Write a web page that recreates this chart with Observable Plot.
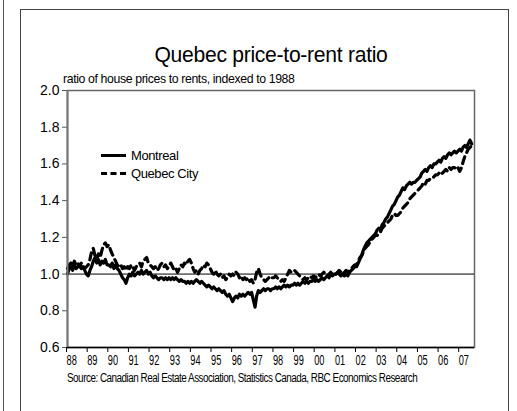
<!DOCTYPE html>
<html>
<head>
<meta charset="utf-8">
<script src="https://cdn.jsdelivr.net/npm/d3@7"></script>
<script src="https://cdn.jsdelivr.net/npm/@observablehq/plot@0.6"></script>
<style>
  html, body { margin: 0; padding: 0; background: #fff; }
  #wrap { position: relative; width: 517px; height: 411px; overflow: hidden; font-family: "Liberation Sans", Arial, sans-serif; color: #000; }
  #wrap svg { position: absolute; left: 0; top: 0; }
  .txt { position: absolute; white-space: nowrap; line-height: 1; }
  #outer { position: absolute; left: 3px; top: 0; width: 1px; height: 411px; background: #555; }
  #inner { position: absolute; left: 20px; top: 9px; width: 487px; height: 420px; border: 1px solid #444; }
  .leg { position: absolute; display: flex; align-items: center; font-size: 13px; letter-spacing: -0.4px; }
  .sw { width: 25px; height: 0; margin-right: 5px; }
</style>
</head>
<body>
<div id="wrap">
  <div id="outer"></div>
  <div id="inner"></div>
  <div id="chart"></div>
  <div class="txt" id="title" style="left:0;width:542px;text-align:center;top:44px;font-size:22px;letter-spacing:-0.3px;transform:scaleX(0.96);transform-origin:271px 0;">Quebec price-to-rent ratio</div>
  <div class="txt" id="subtitle" style="left:63px;top:72px;font-size:13px;letter-spacing:-0.4px;transform:scaleX(0.945);transform-origin:0 0;">ratio of house prices to rents, indexed to 1988</div>
  <div class="txt" id="source" style="left:67px;top:372px;font-size:12px;letter-spacing:-0.6px;transform:scaleX(0.825);transform-origin:0 0;">Source: Canadian Real Estate Association, Statistics Canada, RBC Economics Research</div>
  <div class="leg" style="left:101px;top:148px;"><div class="sw" style="border-top:3px solid #000;"></div><span>Montreal</span></div>
  <div class="leg" style="left:101px;top:166px;"><div class="sw" style="border-top:3px dashed #000;"></div><span>Quebec City</span></div>
</div>
<script>
// Monthly values, January 1988 onward
const startYear = 1988;
const montreal = [
  1.00, 1.03, 1.04, 1.02, 1.05, 1.03, 1.04, 1.05, 1.03, 1.04, 1.02, 1.00,
  0.99, 1.02, 1.04, 1.07, 1.09, 1.06, 1.08, 1.05, 1.07, 1.06, 1.08, 1.05,
  1.05, 1.04, 1.06, 1.03, 1.05, 1.03, 1.02, 1.00, 0.98, 0.97, 0.95, 0.98,
  1.00, 0.99, 1.01, 0.99, 1.00, 1.01, 1.00, 1.02, 1.00, 1.01, 1.02, 1.00,
  1.01, 0.99, 0.98, 0.99, 0.98, 0.97, 0.98, 0.98, 0.97, 0.98, 0.97, 0.98,
  0.97, 0.98, 0.97, 0.98, 0.97, 0.96, 0.97, 0.96, 0.96, 0.95, 0.96, 0.95,
  0.96, 0.95, 0.96, 0.97, 0.96, 0.95, 0.96, 0.95, 0.94, 0.93, 0.94, 0.93,
  0.92, 0.93, 0.92, 0.91, 0.92, 0.91, 0.90, 0.91, 0.89, 0.88, 0.89, 0.87,
  0.85, 0.87, 0.88, 0.87, 0.89, 0.88, 0.89, 0.88, 0.89, 0.90, 0.89, 0.90,
  0.86, 0.82, 0.88, 0.91, 0.90, 0.91, 0.92, 0.91, 0.92, 0.92, 0.91, 0.92,
  0.92, 0.93, 0.92, 0.93, 0.92, 0.93, 0.94, 0.93, 0.94, 0.93, 0.94, 0.94,
  0.95, 0.94, 0.95, 0.94, 0.95, 0.96, 0.95, 0.96, 0.95, 0.96, 0.96, 0.97,
  0.96, 0.97, 0.96, 0.97, 0.98, 0.97, 0.98, 0.99, 0.98, 1.00, 0.99, 1.00,
  1.00, 1.01, 1.00, 0.99, 1.00, 0.99, 1.00, 0.99, 1.01, 1.02, 1.03, 1.04,
  1.04, 1.06, 1.08, 1.10, 1.13, 1.15, 1.17, 1.18, 1.19, 1.20, 1.21, 1.22,
  1.24, 1.25, 1.24, 1.27, 1.28, 1.30, 1.31, 1.33, 1.35, 1.37, 1.38, 1.40,
  1.42, 1.43, 1.45, 1.47, 1.46, 1.48, 1.49, 1.50, 1.49, 1.50, 1.50, 1.51,
  1.52, 1.53, 1.55, 1.56, 1.57, 1.56, 1.58, 1.59, 1.58, 1.60, 1.60, 1.61,
  1.62, 1.61, 1.63, 1.64, 1.63, 1.65, 1.66, 1.65, 1.66, 1.67, 1.66, 1.67,
  1.68, 1.67, 1.69, 1.70, 1.69, 1.71, 1.73, 1.71
];
const quebecCity = [
  1.03, 1.05, 1.06, 1.04, 1.07, 1.05, 1.06, 1.04, 1.06, 1.05, 1.03, 1.04,
  1.05, 1.08, 1.12, 1.14, 1.10, 1.08, 1.11, 1.09, 1.13, 1.16, 1.17, 1.15,
  1.16, 1.13, 1.11, 1.09, 1.07, 1.05, 1.04, 1.05, 1.03, 1.04, 1.02, 1.04,
  1.03, 1.05, 1.04, 1.02, 1.04, 1.05, 1.06, 1.04, 1.07, 1.08, 1.09, 1.06,
  1.05, 1.04, 1.03, 1.04, 1.02, 1.03, 1.05, 1.06, 1.04, 1.05, 1.03, 1.04,
  1.06, 1.04, 1.02, 1.03, 1.01, 1.03, 1.05, 1.04, 1.06, 1.05, 1.07, 1.08,
  1.06, 1.03, 1.01, 1.02, 1.00, 1.02, 1.03, 1.05, 1.04, 1.06, 1.05, 1.03,
  1.01, 1.00, 1.02, 1.00, 0.99, 1.00, 0.98, 0.99, 0.97, 0.98, 1.00, 0.99,
  1.00, 0.99, 1.01, 1.00, 0.98, 0.99, 0.97, 0.98, 0.97, 0.98, 0.96, 0.97,
  0.95, 0.97, 1.01, 1.03, 1.00, 0.98, 0.97, 0.96, 0.97, 0.98, 0.97, 0.98,
  0.98, 0.99, 0.98, 0.97, 0.96, 0.97, 0.96, 0.98, 1.00, 1.02, 1.01, 1.02,
  1.02, 1.01, 1.00, 0.99, 0.98, 0.97, 0.98, 0.97, 0.98, 0.99, 0.98, 0.99,
  0.98, 0.99, 1.00, 0.99, 1.00, 1.01, 1.00, 0.99, 1.00, 1.01, 1.00, 1.01,
  1.00, 1.01, 1.02, 1.01, 1.00, 1.01, 1.02, 1.01, 1.02, 1.03, 1.04, 1.05,
  1.05, 1.07, 1.09, 1.10, 1.12, 1.14, 1.15, 1.16, 1.18, 1.19, 1.20, 1.21,
  1.21, 1.22, 1.23, 1.25, 1.26, 1.27, 1.28, 1.29, 1.30, 1.32, 1.33, 1.32,
  1.32, 1.33, 1.34, 1.36, 1.37, 1.38, 1.39, 1.41, 1.42, 1.43, 1.44, 1.45,
  1.46, 1.47, 1.48, 1.50, 1.49, 1.51, 1.51, 1.52, 1.52, 1.53, 1.54, 1.54,
  1.55, 1.54, 1.55, 1.56, 1.57, 1.56, 1.58, 1.57, 1.58, 1.58, 1.57, 1.58,
  1.56, 1.58, 1.61, 1.64, 1.66, 1.68, 1.69, 1.70
];
const yTicks = [0.6, 0.8, 1.0, 1.2, 1.4, 1.6, 1.8, 2.0];
const xTickYears = d3.range(1988, 2008);
const referenceLevel = [1.0];

const toRows = (arr) => arr.map((v, i) => ({date: new Date(Date.UTC(startYear, i, 1)), value: v}));
const mtl = toRows(montreal);
const qc = toRows(quebecCity);

const font = '"Liberation Sans", Arial, sans-serif';
const chart = Plot.plot({
  width: 517,
  height: 411,
  marginLeft: 67,
  marginRight: 43,
  marginTop: 90,
  marginBottom: 64,
  style: {fontFamily: font, background: "transparent", color: "#000"},
  x: {type: "utc", domain: [new Date(Date.UTC(1988, 0, 1)), new Date(Date.UTC(2007, 8, 20))]},
  y: {domain: [0.6, 2.0]},
  marks: [
    Plot.frame({stroke: "#666", strokeWidth: 1.5}),
    Plot.ruleY(referenceLevel, {stroke: "#000", strokeWidth: 1}),
    Plot.lineY(mtl, {x: "date", y: "value", stroke: "#000", strokeWidth: 3.2, strokeLinejoin: "round"}),
    Plot.lineY(qc, {x: "date", y: "value", stroke: "#000", strokeWidth: 3.2, strokeDasharray: "7,5"}),
    Plot.axisY({ticks: yTicks, tickFormat: d3.format(".1f"), tickSize: 5, tickPadding: 3, fontSize: 14, label: null, stroke: "#555"}),
    Plot.axisX({ticks: xTickYears.map(y => new Date(Date.UTC(y, 0, 1))), tickFormat: d3.utcFormat("%y"), tickSize: 5, tickPadding: 3, fontSize: 14, textAnchor: "start", dx: -1, label: null, stroke: "#000"}),
    Plot.ruleX([new Date(Date.UTC(1988, 0, 1))], {stroke: "#777", strokeWidth: 2}),
    Plot.ruleY([0.6], {stroke: "#000", strokeWidth: 1.5})
  ]
});
// Condense x tick labels horizontally, as in the original
chart.querySelectorAll('g[aria-label="x-axis tick label"] text').forEach(t => {
  const tr = t.getAttribute("transform");
  if (tr) {
    t.setAttribute("transform", tr + " scale(0.66,1)");
  } else {
    const x = +t.getAttribute("x") || 0, y = +t.getAttribute("y") || 0;
    t.setAttribute("transform", `translate(${x},${y}) scale(0.66,1) translate(${-x},${-y})`);
  }
});
document.getElementById("chart").appendChild(chart);
</script>
</body>
</html>
